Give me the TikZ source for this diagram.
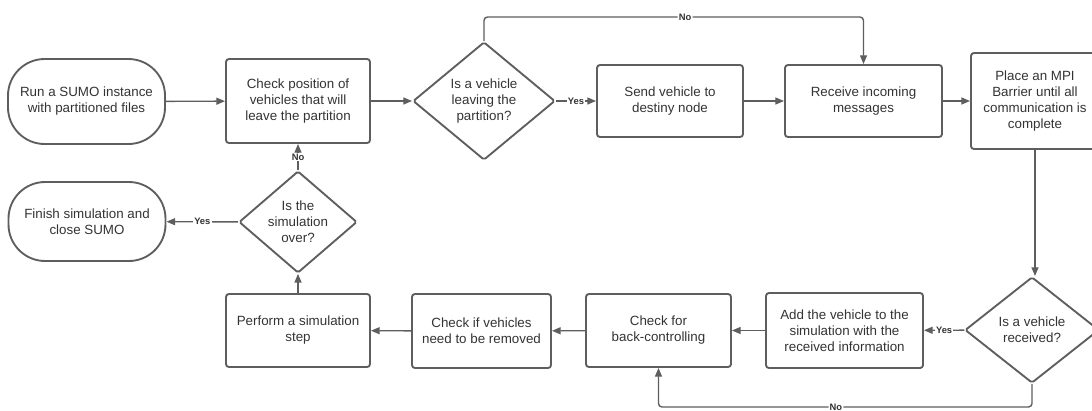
\documentclass[tikz,border=0pt]{standalone}
\usepackage{fontspec}
\setmainfont{Liberation Sans}
\usepackage{tikz}
\usetikzlibrary{positioning, calc, arrows.meta, shapes.geometric}
\definecolor{linegray}{RGB}{94, 94, 94}
\definecolor{textgray}{RGB}{51, 51, 51}

\begin{document}
\begin{tikzpicture}[x=0.03cm, y=-0.03cm,
    procbox/.style={rectangle, draw=linegray, line width=1.6pt, rounded corners=2.5pt, text=textgray, font=\fontsize{11.4}{13.6}\selectfont, align=center, inner sep=2pt},
    termbox/.style={procbox, rounded corners=1.1cm},
    decbox/.style={diamond, draw=linegray, line width=1.6pt, rounded corners=1.5pt, text=textgray, font=\fontsize{11.4}{13.6}\selectfont, align=center, inner sep=0pt},
    flowline/.style={draw=linegray, line width=1.2pt, -{Triangle[length=7.5pt, width=6pt]}},
    lbl/.style={fill=white, text=textgray, font=\fontsize{8}{9}\selectfont\bfseries, inner sep=1pt}]
    \useasboundingbox (0,0) rectangle (1092,410);

    % hàng trên
    \node[termbox, minimum width=4.71cm, minimum height=2.55cm] (start) at (86.5,101.5) {Run a SUMO instance\\with partitioned files};
    \node[procbox, minimum width=4.32cm, minimum height=2.52cm] (check) at (298,101) {Check position of\\vehicles that will\\leave the partition};
    \node[decbox, minimum width=4.26cm, minimum height=3.54cm] (leave) at (484,101) {Is a vehicle\\leaving the\\partition?};
    \node[procbox, minimum width=4.38cm, minimum height=2.16cm] (send) at (670,101) {Send vehicle to\\destiny node};
    \node[procbox, minimum width=4.71cm, minimum height=2.16cm] (recv) at (863.5,101) {Receive incoming\\messages};
    \node[procbox, minimum width=3.84cm, minimum height=2.88cm] (barrier) at (1035,101) {Place an MPI\\Barrier until all\\communication is\\complete};

    % hàng dưới
    \node[decbox, minimum width=4.02cm, minimum height=3.18cm] (got) at (1032,330) {Is a vehicle\\received?};
    \node[procbox, minimum width=4.71cm, minimum height=2.25cm] (add) at (844.5,330.5) {Add the vehicle to the\\simulation with the\\received information};
    \node[procbox, minimum width=4.35cm, minimum height=2.19cm] (back) at (658.5,330.5) {Check for\\back-controlling};
    \node[procbox, minimum width=4.17cm, minimum height=2.22cm] (remove) at (481.5,331) {Check if vehicles\\need to be removed};
    \node[procbox, minimum width=4.32cm, minimum height=2.19cm] (step) at (298,330.5) {Perform a simulation\\step};
    \node[decbox, minimum width=3.54cm, minimum height=2.46cm] (over) at (298,222) {Is the\\simulation\\over?};
    \node[termbox, minimum width=4.71cm, minimum height=2.37cm] (finish) at (87,221.5) {Finish simulation and\\close SUMO};

    \coordinate (topNo) at (0,17);
    \coordinate (botNo) at (0,407);

    % các mũi tên
    \draw[flowline] (start) -- (check);
    \draw[flowline] (check) -- (leave);
    \draw[flowline] (leave) -- node[lbl]{Yes} (send);
    \draw[flowline, rounded corners=3pt] (leave.north) -- (leave.north |- topNo) -- node[lbl, pos=0.53]{No} (recv.north |- topNo) -- (recv.north);
    \draw[flowline] (send) -- (recv);
    \draw[flowline] (recv) -- (barrier);
    \draw[flowline] (barrier.south) -- (barrier.south |- got.north);
    \draw[flowline] (got) -- node[lbl]{Yes} (add);
    \draw[flowline, rounded corners=3pt] (got.south) -- (got.south |- botNo) -- node[lbl, pos=0.525]{No} (back.south |- botNo) -- (back.south);
    \draw[flowline] (add) -- (back);
    \draw[flowline] (back) -- (remove);
    \draw[flowline] (remove) -- (step);
    \draw[flowline] (step) -- (over);
    \draw[flowline] (over) -- node[lbl]{No} (check);
    \draw[flowline] (over) -- node[lbl]{Yes} (finish);
\end{tikzpicture}
\end{document}
